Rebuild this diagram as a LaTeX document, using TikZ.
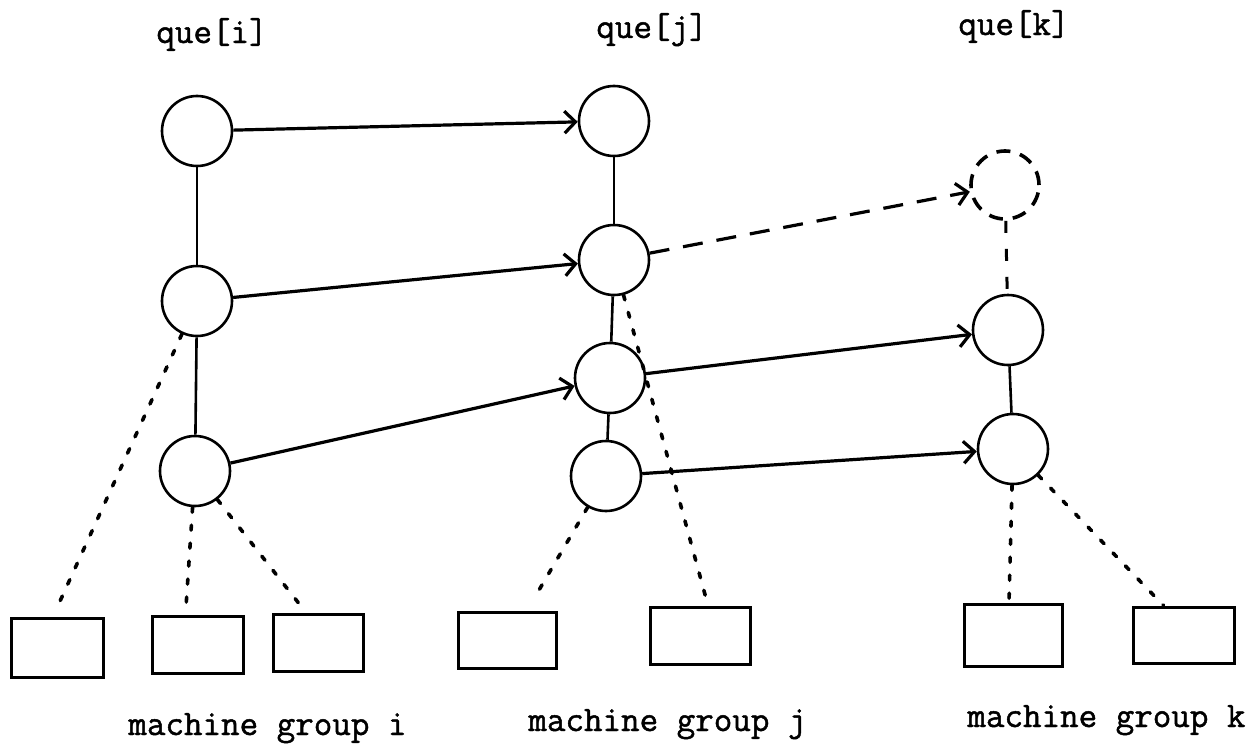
\documentclass[tikz,border=0pt]{standalone}
\usepackage{fontspec}
\newfontfamily\typew{Latin Modern Mono}[FakeBold=1.3]
\usetikzlibrary{arrows.meta}
\begin{document}
\begin{tikzpicture}[x=0.5pt,y=-0.5pt,
  qnode/.style={circle, draw, line width=1.3pt, minimum size=35pt, inner sep=0pt},
  ghost/.style={circle, draw, line width=1.8pt, minimum size=34pt, inner sep=0pt, dash pattern=on 7pt off 5pt},
  mbox/.style={draw, line width=1.5pt, inner sep=0pt},
  link/.style={line width=1.3pt},
  arr/.style={line width=1.6pt, -{Straight Barb[length=5.5pt,width=11pt,line width=1.6pt]}},
  darr/.style={arr, dash pattern=on 10pt off 7pt},
  dlink/.style={line width=1.5pt, dash pattern=on 6pt off 8pt},
  dotl/.style={line width=1.8pt, line cap=round, dash pattern=on 2.5pt off 6.5pt},
  lbl/.style={font=\typew\bfseries\fontsize{18}{18}\selectfont, inner sep=0pt}]
\useasboundingbox (0,0) rectangle (1255,744);

% labels
\node[lbl, anchor=base] (qi) at (212,43) {que[i]};
\node[lbl, anchor=base] (qj) at (652,38) {que[j]};
\node[lbl, anchor=base] (qk) at (1014,35) {que[k]};
\node[lbl, anchor=base west] (mi) at (128,735) {machine group i};
\node[lbl, anchor=base west] (mj) at (528,731) {machine group j};
\node[lbl, anchor=base west] (mk) at (967,727) {machine group k};

% queue nodes
\node[qnode] (i1) at (197,131) {};
\node[qnode] (i2) at (197,301) {};
\node[qnode] (i3) at (195,471) {};
\node[qnode] (j1) at (614,121) {};
\node[qnode] (j2) at (614,260) {};
\node[qnode] (j3) at (610,378) {};
\node[qnode] (j4) at (606,476) {};
\node[ghost] (k0) at (1005,185) {};
\node[qnode] (k1) at (1008,330) {};
\node[qnode] (k2) at (1013,449) {};

% machine boxes
\node[mbox, minimum width=46pt, minimum height=29.5pt] (bi1) at (57,647.5) {};
\node[mbox, minimum width=45.5pt, minimum height=28.5pt] (bi2) at (197.5,644.5) {};
\node[mbox, minimum width=45pt, minimum height=28.5pt] (bi3) at (318,642.5) {};
\node[mbox, minimum width=49pt, minimum height=28pt] (bj1) at (507,640) {};
\node[mbox, minimum width=50pt, minimum height=28.5pt] (bj2) at (700,635.5) {};
\node[mbox, minimum width=49pt, minimum height=31pt] (bk1) at (1013,635) {};
\node[mbox, minimum width=50.5pt, minimum height=28pt] (bk2) at (1183.5,635) {};

% vertical queue links
\draw[link] (i1) -- (i2);
\draw[link] (i2) -- (i3);
\draw[link] (j1) -- (j2);
\draw[link] (j2) -- (j3);
\draw[link] (j3) -- (j4);
\draw[link] (k1) -- (k2);
\draw[dlink] (k0) -- (k1);

% arrows between queues
\draw[arr] (i1) -- (j1);
\draw[arr] (i2) -- (j2);
\draw[arr] (i3) -- (j3);
\draw[darr] (j2) -- (k0);
\draw[arr] (j3) -- (k1);
\draw[arr] (j4) -- (k2);

% dotted links to machines
\draw[dotl, shorten >=5pt] (i2) -- ([xshift=-2]bi1.north);
\draw[dotl, shorten >=4pt] (i3) -- ([xshift=-6]bi2.north);
\draw[dotl, shorten >=4pt] (i3) -- ([xshift=-6]bi3.north);
\draw[dotl, shorten >=3pt] (j2) -- ([xshift=4]bj2.north);
\draw[dotl, shorten >=8pt] (j4) -- ([xshift=10]bj1.north);
\draw[dotl] (k2) -- ([xshift=-2]bk1.north);
\draw[dotl] (k2) -- ([xshift=-10]bk2.north);
\end{tikzpicture}
\end{document}
